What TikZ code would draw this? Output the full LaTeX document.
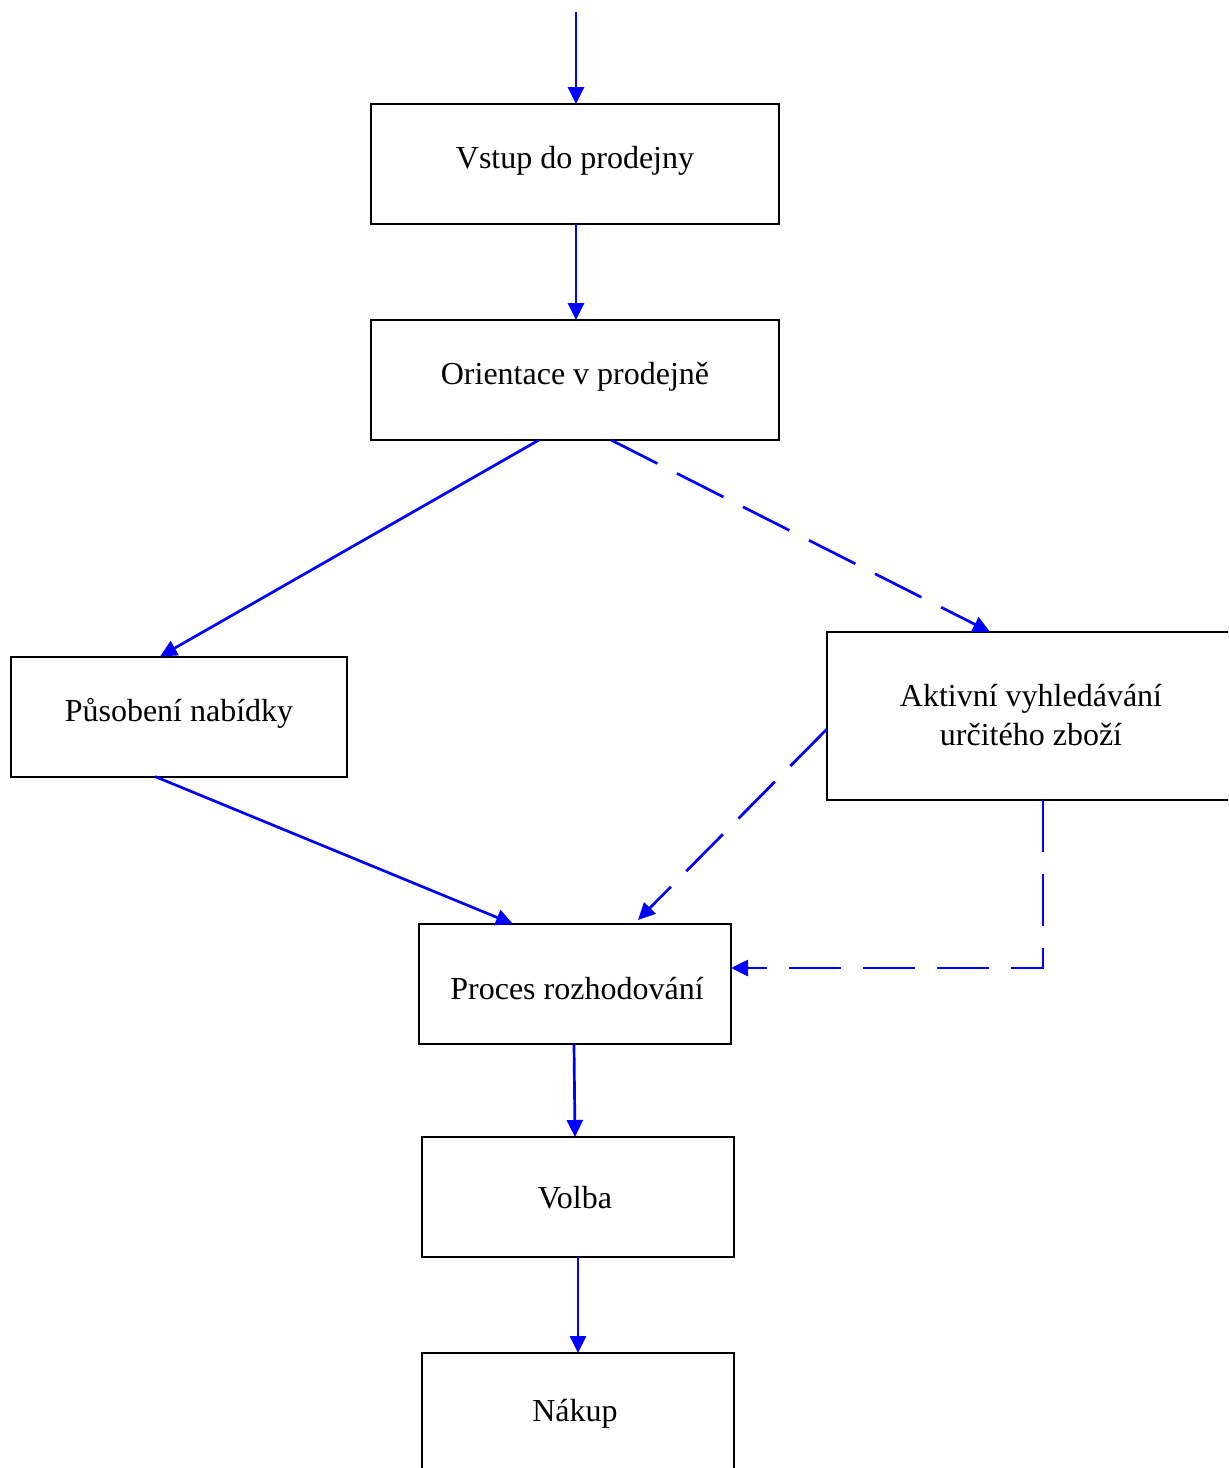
\documentclass[tikz,border=0pt]{standalone}
\usepackage{fontspec}
\setmainfont{Liberation Serif}
\usetikzlibrary{calc,arrows.meta}
\begin{document}
\begin{tikzpicture}[x=0.5pt,y=-0.5pt,
  box/.style={draw=black,line width=1pt,inner sep=0pt,outer sep=0pt,rectangle},
  lbl/.style={font=\fontsize{16}{19.5}\selectfont,align=center,inner sep=0pt},
  flow/.style={draw=blue,line width=1.35pt,-{Triangle[length=8.5pt,width=8pt]}},
  opt/.style={flow,dash pattern=on 26pt off 11pt}]
\useasboundingbox (0,0) rectangle (1228,1468);
\clip (0,0) rectangle (1228,1468);

% boxes
\node[box,minimum width=204pt,minimum height=60pt] (vstup) at (575,164) {};
\node[box,minimum width=204pt,minimum height=60pt] (orient) at (575,380) {};
\node[box,minimum width=168pt,minimum height=60pt] (pusob) at (179,716.5) {};
\node[box,minimum width=204.5pt,minimum height=84pt] (aktiv) at (1031.5,716) {};
\node[box,minimum width=156pt,minimum height=60pt] (proces) at (575,984) {};
\node[box,minimum width=156pt,minimum height=60pt] (volba) at (578,1197) {};
\node[box,minimum width=156pt,minimum height=60pt] (nakup) at (578,1413) {};

% labels
\node[lbl] (tvstup) at (575,161) {Vstup do prodejny};
\node[lbl] (torient) at (575,377) {Orientace v prodejně};
\node[lbl] (tpusob) at (179,713) {Působení nabídky};
\node[lbl] (taktiv) at (1031,715) {Aktivní vyhledávání\\určitého zboží};
\node[lbl] (tproces) at (577,989) {Proces rozhodování};
\node[lbl] (tvolba) at (575,1198) {Volba};
\node[lbl] (tnakup) at (575,1414) {Nákup};

% connectors
\coordinate (entry) at (576,12);
\draw[flow] (entry) -- ($(vstup.north)+(1,0)$);
\draw[flow] ($(vstup.south)+(1,0)$) -- ($(orient.north)+(1,0)$);
\draw[flow] ($(orient.south)+(-36,0)$) -- ($(pusob.north)+(-19,0)$);
\draw[opt] ($(orient.south)+(36,0)$) -- ($(aktiv.north)+(-41.5,0)$);
\draw[flow] ($(pusob.south)+(-24,0)$) -- ($(proces.north)+(-62,0)$);
\draw[opt] ($(aktiv.west)+(0,13)$) -- ($(proces.north)+(63,-4)$);
\draw[opt] ($(aktiv.south)+(11.5,0)$) |- ($(proces.east)+(0,-16)$);
\draw[flow] ($(proces.south)+(-1,0)$) -- ($(volba.north)+(-3,0)$);
\draw[flow] (volba) -- (nakup);
\end{tikzpicture}
\end{document}
